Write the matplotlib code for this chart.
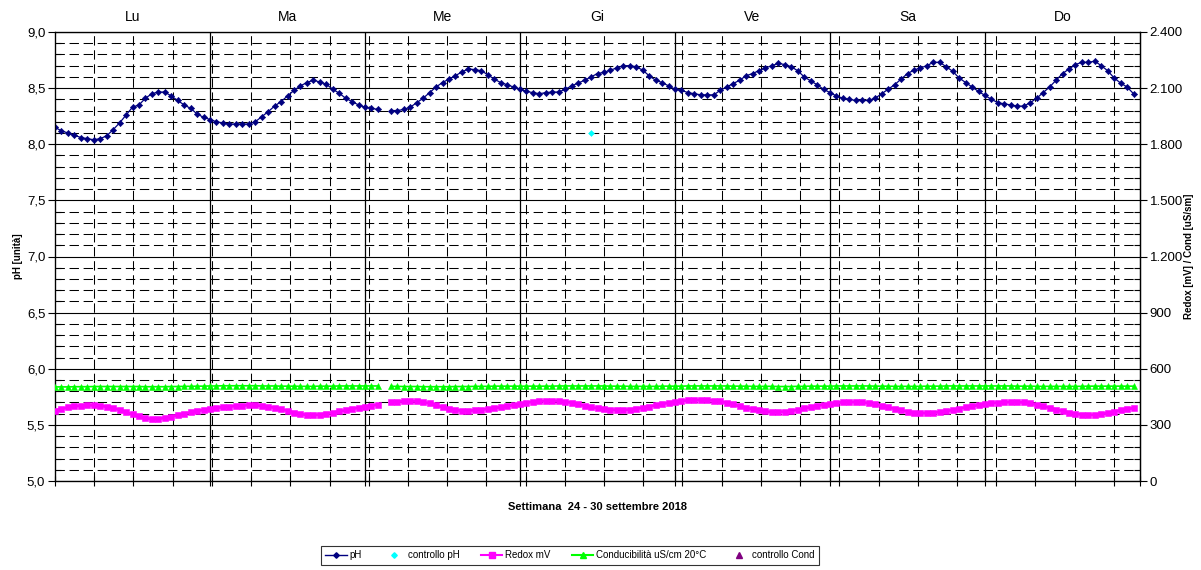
import numpy as np
import matplotlib
matplotlib.use("Agg")
import matplotlib.pyplot as plt
from matplotlib.ticker import FixedLocator, MultipleLocator, FuncFormatter, NullFormatter
from matplotlib.lines import Line2D

plt.rcParams['font.family'] = ['Liberation Sans', 'DejaVu Sans']

nan = float('nan')

days = ['Lu', 'Ma', 'Me', 'Gi', 'Ve', 'Sa', 'Do']

ph = [8.15, 8.12, 8.10, 8.08, 8.06, 8.05, 8.04, 8.05, 8.075, 8.13, 8.19, 8.26,
      8.33, 8.35, 8.41, 8.45, 8.465, 8.465, 8.43, 8.39, 8.35, 8.32, 8.27, 8.24,
      8.22, 8.20, 8.19, 8.18, 8.18, 8.18, 8.18, 8.20, 8.245, 8.29, 8.34, 8.38,
      8.43, 8.48, 8.52, 8.55, 8.57, 8.555, 8.535, 8.49, 8.455, 8.41, 8.38, 8.35,
      8.33, 8.32, 8.31, nan, 8.30, 8.30, 8.31, 8.33, 8.37, 8.41, 8.46, 8.51,
      8.55, 8.58, 8.61, 8.645, 8.67, 8.665, 8.655, 8.62, 8.58, 8.55, 8.53, 8.51,
      8.49, 8.47, 8.46, 8.45, 8.46, 8.465, 8.465, 8.49, 8.52, 8.545, 8.57, 8.60,
      8.63, 8.64, 8.66, 8.68, 8.70, 8.70, 8.69, 8.66, 8.61, 8.57, 8.55, 8.52,
      8.49, 8.48, 8.46, 8.45, 8.44, 8.44, 8.44, 8.48, 8.51, 8.54, 8.57, 8.61,
      8.63, 8.655, 8.68, 8.70, 8.72, 8.71, 8.69, 8.655, 8.60, 8.565, 8.53, 8.49,
      8.46, 8.43, 8.41, 8.40, 8.39, 8.39, 8.39, 8.41, 8.45, 8.49, 8.53, 8.58,
      8.63, 8.66, 8.68, 8.70, 8.73, 8.73, 8.69, 8.65, 8.59, 8.55, 8.51, 8.47,
      8.435, 8.40, 8.37, 8.36, 8.35, 8.34, 8.34, 8.37, 8.41, 8.46, 8.51, 8.57,
      8.63, 8.67, 8.71, 8.73, 8.73, 8.74, 8.70, 8.655, 8.59, 8.545, 8.51, 8.45]

redox = [376, 385, 393, 399, 403, 405, 405, 402, 397, 390, 380, 368,
         356, 345, 336, 331, 332, 338, 344, 352, 360, 367, 374, 380,
         386, 391, 395, 398, 401, 403, 406, 405, 401, 396, 392, 384,
         375, 365, 358, 353, 352, 355, 360, 365, 372, 378, 385, 392,
         398, 403, 408, nan, 420, 424, 426, 428, 426, 421, 415, 405,
         394, 386, 380, 376, 376, 378, 380, 386, 390, 394, 400, 406,
         412, 418, 424, 426, 428, 429, 428, 424, 418, 410, 402, 395,
         388, 384, 381, 380, 380, 382, 386, 392, 398, 405, 412, 418,
         424, 428, 431, 433, 433, 433, 430, 425, 418, 410, 400, 392,
         384, 377, 372, 369, 369, 371, 375, 381, 388, 395, 402, 408,
         413, 418, 421, 422, 422, 420, 416, 410, 402, 394, 386, 378,
         371, 366, 363, 363, 365, 369, 374, 380, 387, 394, 400, 406,
         411, 416, 419, 421, 422, 422, 420, 415, 408, 400, 391, 382,
         374, 366, 359, 355, 353, 354, 358, 364, 371, 378, 384, 390]

cond = [503, 503, 503, 504, 504, 504, 505, 505, 505, 505, 505, 505,
        505, 505, 504, 504, 504, 504, 505, 505, 506, 506, 507, 507,
        508, 508, 509, 509, 509, 509, 509, 509, 508, 508, 508, 507,
        507, 507, 506, 506, 506, 507, 507, 507, 508, 508, 508, 508,
        508, 508, 508, nan, 506, 506, 505, 505, 505, 504, 504, 504,
        504, 504, 505, 505, 505, 506, 506, 506, 507, 507, 507, 507,
        507, 507, 507, 507, 507, 507, 508, 508, 508, 508, 508, 508,
        508, 508, 507, 507, 507, 506, 506, 506, 506, 506, 507, 507,
        507, 507, 508, 508, 508, 508, 508, 508, 508, 507, 507, 507,
        506, 506, 506, 506, 505, 505, 505, 506, 506, 507, 507, 507,
        507, 508, 508, 508, 508, 508, 508, 507, 507, 507, 506, 506,
        506, 506, 506, 507, 507, 507, 508, 508, 508, 508, 508, 508,
        508, 508, 508, 508, 508, 507, 507, 507, 506, 506, 506, 506,
        506, 506, 506, 506, 507, 507, 507, 507, 507, 507, 507, 507]

ctrl_ph_hour = [83]
ctrl_ph_val = [8.10]
ctrl_cond_hour = []
ctrl_cond_val = []

W, H = 1201, 570
L, R, T, B = 55, 1140, 32, 481

fig = plt.figure(figsize=(W / 100, H / 100), dpi=100)
ax = fig.add_axes([L / W, 1 - B / H, (R - L) / W, (B - T) / H])
ax2 = ax.twinx()

hours = np.arange(len(ph))
ax.set_xlim(0, 168)
ax.set_ylim(5, 9)
ax2.set_ylim(0, 2400)

dash = (0, (9, 4.5))
# grid: horizontal
for v in np.arange(5.0, 9.001, 0.1):
    vr = round(v, 1)
    if abs(vr * 2 - round(vr * 2)) < 1e-6:
        ax.axhline(vr, color='black', lw=0.8, zorder=1)
    else:
        ax.axhline(vr, color='black', lw=0.75, ls=dash, zorder=1)

# grid: vertical
sec_step = 6 * 168 / 166
vx = [k * sec_step for k in range(1, 28)]
for x in vx:
    ax.axvline(x, color='black', lw=0.75, ls=dash, zorder=1)
for d in range(1, 7):
    ax.axvline(d * 24, color='black', lw=0.9, zorder=1)

# data
ax.plot(hours, ph, color='#000080', lw=0.9, marker='D', markersize=3.2,
        markeredgewidth=0.4, zorder=5)
ax.plot(ctrl_ph_hour, ctrl_ph_val, ls='none', marker='D', color='#00FFFF',
        markersize=3.0, markeredgewidth=0.4, zorder=5)
ax2.plot(hours, redox, color='#FF00FF', lw=2.0, marker='s', markersize=4.8,
         markeredgewidth=0.4, zorder=5)
ax2.plot(hours, cond, color='#00FF00', lw=1.2, marker='^', markersize=4.4,
         markeredgewidth=0.4, zorder=5)
if ctrl_cond_hour:
    ax2.plot(ctrl_cond_hour, ctrl_cond_val, ls='none', marker='^', color='#800080', markersize=5)

# ticks
ax.yaxis.set_major_locator(MultipleLocator(0.5))
ax.yaxis.set_minor_locator(MultipleLocator(0.1))
ax.yaxis.set_major_formatter(FuncFormatter(lambda v, p: f"{v:.1f}".replace('.', ',')))
ax2.yaxis.set_major_locator(MultipleLocator(300))
ax2.yaxis.set_minor_locator(MultipleLocator(60))
ax2.yaxis.set_major_formatter(FuncFormatter(lambda v, p: f"{int(round(v)):,}".replace(',', '.')))
ax.tick_params(axis='y', which='major', direction='out', length=5, width=0.8, labelsize=9.5, pad=2)
ax.tick_params(axis='y', which='minor', direction='in', length=4, width=0.8)
ax2.tick_params(axis='y', which='major', direction='out', length=5, width=0.8, labelsize=9.5, pad=2)
ax2.tick_params(axis='y', which='minor', direction='in', length=4, width=0.8)

ax.xaxis.set_major_locator(FixedLocator([0] + vx + [d * 24 for d in range(1, 8)]))
ax.xaxis.set_major_formatter(NullFormatter())
ax.tick_params(axis='x', which='major', direction='inout', length=7, width=0.8)

for sp in ax.spines.values():
    sp.set_linewidth(0.9)
ax2.spines['right'].set_linewidth(0.9)

# day labels
for i, d in enumerate(days):
    ax.text(i * 24 + 12, 1 + 15 / (B - T), d, transform=ax.get_xaxis_transform(),
            ha='center', va='center', fontsize=10)

ax.set_ylabel('pH [unità]', fontsize=7, fontweight='bold', labelpad=3)
ax2.set_ylabel('Redox [mV] / Cond [uS/sm]', fontsize=7, fontweight='bold', labelpad=1)
ax.set_xlabel('Settimana  24 - 30 settembre 2018', fontsize=8, fontweight='bold', labelpad=8)

handles = [
    Line2D([], [], color='#000080', lw=1.0, marker='D', markersize=2.8),
    Line2D([], [], color='#00FFFF', ls='none', marker='D', markersize=2.8),
    Line2D([], [], color='#FF00FF', lw=1.5, marker='s', markersize=4.5),
    Line2D([], [], color='#00FF00', lw=1.5, marker='^', markersize=4.5),
    Line2D([], [], color='#800080', ls='none', marker='^', markersize=4.5),
]
labels = ['pH', 'controllo pH', 'Redox mV', 'Conducibilità uS/cm 20°C', 'controllo Cond']
leg = fig.legend(handles, labels, loc='center', bbox_to_anchor=(570 / W, 1 - 555.5 / H),
                 ncol=5, fontsize=7, frameon=True, fancybox=False, edgecolor='black',
                 handlelength=2.2, handletextpad=0.3, columnspacing=2.2, borderpad=0.45)
leg.get_frame().set_linewidth(0.8)

fig.savefig('out.png', dpi=100)
